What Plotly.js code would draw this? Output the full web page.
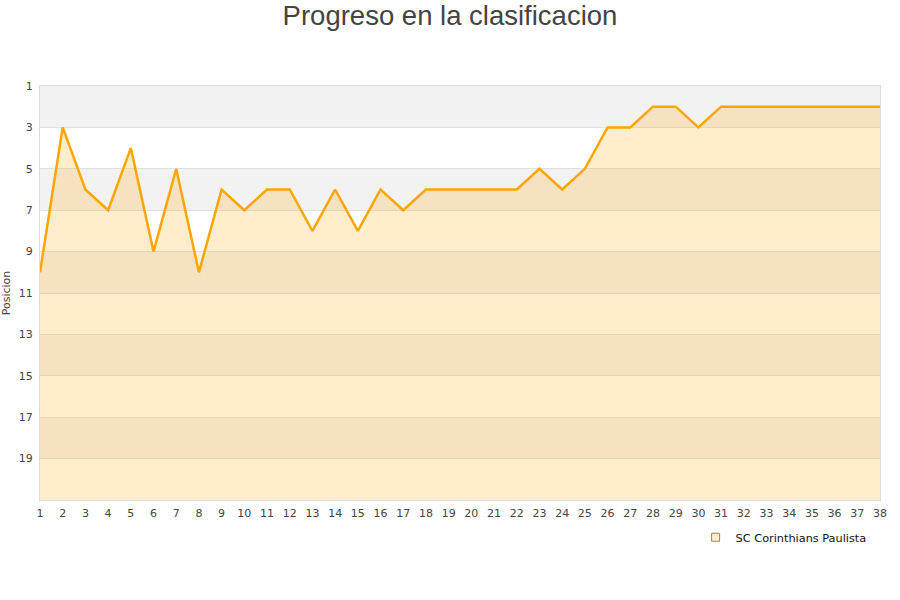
<!DOCTYPE html>
<html>
<head>
<meta charset="utf-8">
<script src="https://cdn.plot.ly/plotly-3.0.1.min.js"></script>
<style>html,body{margin:0;padding:0;background:#fff}#gd{width:900px;height:600px}</style>
</head>
<body>
<div id="gd"></div>
<script>
// jornadas 1..38 and league position after each one
const jornadas = [1,2,3,4,5,6,7,8,9,10,11,12,13,14,15,16,17,18,19,20,21,22,23,24,25,26,27,28,29,30,31,32,33,34,35,36,37,38];
const posicion = [10,3,6,7,4,9,5,10,6,7,6,6,8,6,8,6,7,6,6,6,6,6,5,6,5,3,3,2,2,3,2,2,2,2,2,2,2,2];
const yTicks = [1,3,5,7,9,11,13,15,17,19];
const yBottom = 21;
const teamName = 'SC Corinthians Paulista';

const gd = document.getElementById('gd');

// alternating grey / white bands behind the chart
const bands = [];
for (let i = 0; i < yTicks.length; i += 2) {
  bands.push({
    type: 'rect', layer: 'below', xref: 'paper', yref: 'y',
    x0: 0, x1: 1, y0: yTicks[i], y1: yTicks[i] + 2,
    fillcolor: '#f2f2f2', line: {width: 0}
  });
}

const data = [
  // invisible baseline at the bottom of the axis, so the area fills down
  { x: jornadas, y: jornadas.map(() => yBottom), type: 'scatter', mode: 'lines',
    line: {width: 0}, showlegend: false, hoverinfo: 'skip' },
  { x: jornadas, y: posicion, type: 'scatter', mode: 'lines', name: teamName,
    fill: 'tonexty', fillcolor: 'rgba(255,165,0,0.2)',
    line: {color: '#ffa500', width: 2.5}, showlegend: false },
  // legend entry only (square swatch)
  { x: [null], y: [null], type: 'scatter', mode: 'markers', name: teamName,
    marker: {symbol: 'square', size: 8, color: 'rgba(255,165,0,0.2)', line: {color: '#a08060', width: 1}} }
];

const layout = {
  width: 900, height: 600,
  paper_bgcolor: '#fff', plot_bgcolor: 'rgba(0,0,0,0)',
  font: {family: 'DejaVu Sans, sans-serif', size: 11, color: '#444'},
  title: {text: 'Progreso en la clasificacion', x: 0.5, xref: 'container', xanchor: 'center',
    y: 0.974, yref: 'container', yanchor: 'middle',
    font: {family: 'Liberation Sans, Arial, sans-serif', size: 27.5, color: '#444'}},
  margin: {l: 40, r: 20, t: 86, b: 100},
  shapes: bands,
  xaxis: {
    range: [1, 38], tickmode: 'array', tickvals: jornadas, ticktext: jornadas.map(String),
    showgrid: false, zeroline: false, ticks: '', showline: true, mirror: true,
    linecolor: '#dcdcdc', linewidth: 1, tickfont: {size: 11, color: '#444'},
    ticklabelstandoff: 3
  },
  yaxis: {
    range: [yBottom, 1], tickmode: 'array', tickvals: yTicks,
    showgrid: true, gridcolor: '#e0e0e0', gridwidth: 1, zeroline: false, ticks: '',
    showline: true, mirror: true, linecolor: '#dcdcdc', linewidth: 1,
    tickfont: {size: 11, color: '#444'}, ticklabelstandoff: 4,
    title: {text: 'Posicion', standoff: 6, font: {size: 11, color: '#444'}}
  },
  legend: {x: 0.99, xanchor: 'right', y: -0.055, yanchor: 'top', orientation: 'h',
    font: {size: 11.3, color: '#111'}, bgcolor: 'rgba(0,0,0,0)'},
  hovermode: 'closest'
};

Plotly.newPlot(gd, data, layout, {displayModeBar: false});
</script>
</body>
</html>
